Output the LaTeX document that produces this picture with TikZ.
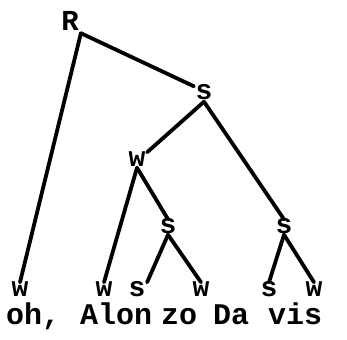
\documentclass[tikz,border=0pt]{standalone}
\usepackage{fontspec}
\setmonofont{Liberation Mono}
\begin{document}
\begin{tikzpicture}[x=1pt,y=-1pt,
  lab/.style={font=\ttfamily\bfseries\fontsize{28}{30}\selectfont, inner sep=1.5pt, text height=12pt, text depth=0pt},
  capl/.style={font=\ttfamily\bfseries\fontsize{29}{31}\selectfont, inner sep=2pt, text height=16pt, text depth=0pt},
  word/.style={font=\ttfamily\bfseries\fontsize{30}{32}\selectfont, inner sep=0pt, anchor=base west, text height=18pt, text depth=2pt},
  edge/.style={line width=3.8pt, line cap=round}]
\useasboundingbox (0,0) rectangle (347,339);
\node[capl] (R) at (70,23) {R};
\node[lab] (s1) at (204,94) {s};
\node[lab] (w2) at (137,160) {w};
\node[lab] (s4) at (168,227) {s};
\node[lab] (s3) at (284,227) {s};
\node[lab] (l1) at (20,290) {w};
\node[lab] (l2) at (104,290) {w};
\node[lab] (l3) at (137,290) {s};
\node[lab] (l4) at (201,290) {w};
\node[lab] (l5) at (269,290) {s};
\node[lab] (l6) at (314,290) {w};
\node[word] (t1) at (6,324) {oh,};
\node[word] (t2) at (80,324) {Alon};
\node[word] (t3) at (161,324) {zo};
\node[word] (t4) at (213,324) {Da};
\node[word] (t5) at (268,324) {vis};
\draw[edge] (R.south east) -- (s1.north west);
\draw[edge] (R.south east) -- (l1.north);
\draw[edge] (s1.south) -- (w2.north east);
\draw[edge] (s1.south) -- (s3.north);
\draw[edge] (w2.south) -- (l2.north);
\draw[edge] (w2.south) -- (s4.north);
\draw[edge] (s4.south) -- (l3.north east);
\draw[edge] (s4.south) -- (l4.north);
\draw[edge] (s3.south) -- (l5.north);
\draw[edge] (s3.south) -- (l6.north);
\end{tikzpicture}
\end{document}
